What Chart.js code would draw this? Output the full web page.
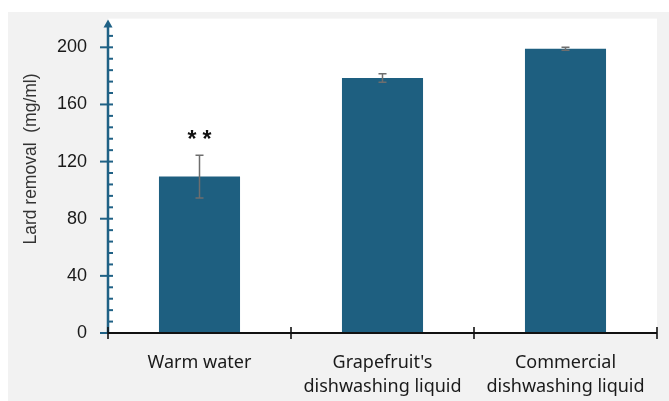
<!DOCTYPE html>
<html><head><meta charset="utf-8">
<script src="https://cdn.jsdelivr.net/npm/chart.js@4.4.1/dist/chart.umd.min.js"></script>
<style>html,body{margin:0;padding:0;background:#fff;}#wrap{width:669px;height:401px;position:relative;}</style>
</head><body><div id="wrap"><canvas id="c" width="669" height="401"></canvas></div>
<script>
const categories = [['Warm water'], ["Grapefruit's", 'dishwashing liquid'], ['Commercial', 'dishwashing liquid']];
const lardRemoval = [109.5, 178.5, 199];
const errorValues = [15, 3, 1];
const significance = ['**', '', ''];
const yAxisTitle = 'Lard removal  (mg/ml)';
const yMin = 0, yMax = 218, yStep = 8, yLabelStep = 40;

const BAR = '#1e5f80';
const AXIS_TEAL = '#1f6185';

const customPlugin = {
  id: 'custom',
  beforeDraw(chart) {
    const {ctx, chartArea: a, width, height} = chart;
    ctx.save();
    ctx.fillStyle = '#ffffff'; ctx.fillRect(0, 0, width, height);
    ctx.fillStyle = '#f2f2f2'; ctx.fillRect(8, 12, width - 8, height - 12);
    ctx.fillStyle = '#ffffff'; ctx.fillRect(a.left, a.top - 3, a.right - a.left, a.bottom - a.top + 3);
    ctx.restore();
  },
  afterDatasetsDraw(chart) {
    const {ctx, chartArea: a, scales: {x, y}} = chart;
    ctx.save();
    // error bars
    ctx.strokeStyle = '#6e6e6e'; ctx.lineWidth = 1.5;
    lardRemoval.forEach((v, i) => {
      const px = x.getPixelForValue(i);
      const t = y.getPixelForValue(v + errorValues[i]);
      const b = y.getPixelForValue(v - errorValues[i]);
      ctx.beginPath();
      ctx.moveTo(px, t); ctx.lineTo(px, b);
      ctx.moveTo(px - 4, t); ctx.lineTo(px + 4, t);
      ctx.moveTo(px - 4, b); ctx.lineTo(px + 4, b);
      ctx.stroke();
    });
    // significance marks
    ctx.fillStyle = '#111';
    ctx.font = 'bold 23px "Liberation Sans"';
    ctx.textAlign = 'center'; ctx.textBaseline = 'alphabetic';
    significance.forEach((s, i) => {
      if (!s) return;
      const px = x.getPixelForValue(i);
      const py = y.getPixelForValue(lardRemoval[i] + errorValues[i]) - 8;
      const chars = s.split('');
      const gap = 15;
      chars.forEach((c, k) => {
        ctx.fillText(c, px + (k - (chars.length - 1) / 2) * gap, py);
      });
    });
    // y axis title
    ctx.save();
    ctx.translate(31, 159);
    ctx.rotate(-Math.PI / 2);
    ctx.fillStyle = '#333';
    ctx.font = '17.5px "Liberation Sans"';
    ctx.textAlign = 'center'; ctx.textBaseline = 'middle';
    ctx.fillText(yAxisTitle, 0, 0);
    ctx.restore();
    // y axis line with arrow
    ctx.strokeStyle = AXIS_TEAL; ctx.fillStyle = AXIS_TEAL;
    ctx.lineWidth = 2.5;
    ctx.beginPath(); ctx.moveTo(a.left, a.bottom); ctx.lineTo(a.left, a.top + 2); ctx.stroke();
    ctx.beginPath();
    ctx.moveTo(a.left, a.top - 2);
    ctx.lineTo(a.left - 4.5, a.top + 6);
    ctx.lineTo(a.left + 4.5, a.top + 6);
    ctx.closePath(); ctx.fill();
    // y ticks
    ctx.lineWidth = 2;
    for (let v = yMin; v <= 208; v += yStep) {
      const py = y.getPixelForValue(v);
      ctx.beginPath();
      if (v % yLabelStep === 0) { ctx.moveTo(a.left - 8, py); ctx.lineTo(a.left + 5, py); }
      else { ctx.moveTo(a.left, py); ctx.lineTo(a.left + 5, py); }
      ctx.stroke();
    }
    // x axis
    ctx.strokeStyle = '#111'; ctx.lineWidth = 2;
    ctx.beginPath(); ctx.moveTo(a.left, a.bottom); ctx.lineTo(a.right, a.bottom); ctx.stroke();
    ctx.lineWidth = 1.6;
    const n = categories.length;
    for (let i = 0; i <= n; i++) {
      let px;
      if (i === 0) px = x.left; else if (i === n) px = x.right;
      else px = (x.getPixelForValue(i - 1) + x.getPixelForValue(i)) / 2;
      ctx.beginPath(); ctx.moveTo(px, a.bottom - 6); ctx.lineTo(px, a.bottom + 6); ctx.stroke();
    }
    ctx.restore();
  }
};

new Chart(document.getElementById('c'), {
  type: 'bar',
  data: {
    labels: categories,
    datasets: [{
      data: lardRemoval,
      backgroundColor: BAR,
      borderWidth: 0,
      categoryPercentage: 1,
      barPercentage: 0.443
    }]
  },
  options: {
    responsive: false,
    devicePixelRatio: 1,
    animation: false,
    layout: {padding: {left: 0, top: 18, right: 12, bottom: 0}},
    plugins: {legend: {display: false}, tooltip: {enabled: false}},
    scales: {
      x: {
        grid: {display: false, drawTicks: false},
        border: {display: false},
        ticks: {
          color: '#1a1a1a',
          font: {family: 'Noto Sans', size: 18, lineHeight: 1.33},
          padding: 18,
          maxRotation: 0, autoSkip: false
        },
        afterFit(s) { s.height = 68; }
      },
      y: {
        min: yMin, max: yMax,
        grid: {display: false, drawTicks: false},
        border: {display: false},
        ticks: {
          stepSize: yStep,
          autoSkip: false,
          color: '#1a1a1a',
          font: (c) => ({family: 'Liberation Sans', size: (c.tick && c.tick.value % yLabelStep === 0) ? 18 : 1}),
          padding: 21,
          callback: (v) => (v % yLabelStep === 0 ? String(v) : '')
        },
        afterFit(s) { s.width = 108; }
      }
    }
  },
  plugins: [customPlugin]
});
</script>
</body></html>
